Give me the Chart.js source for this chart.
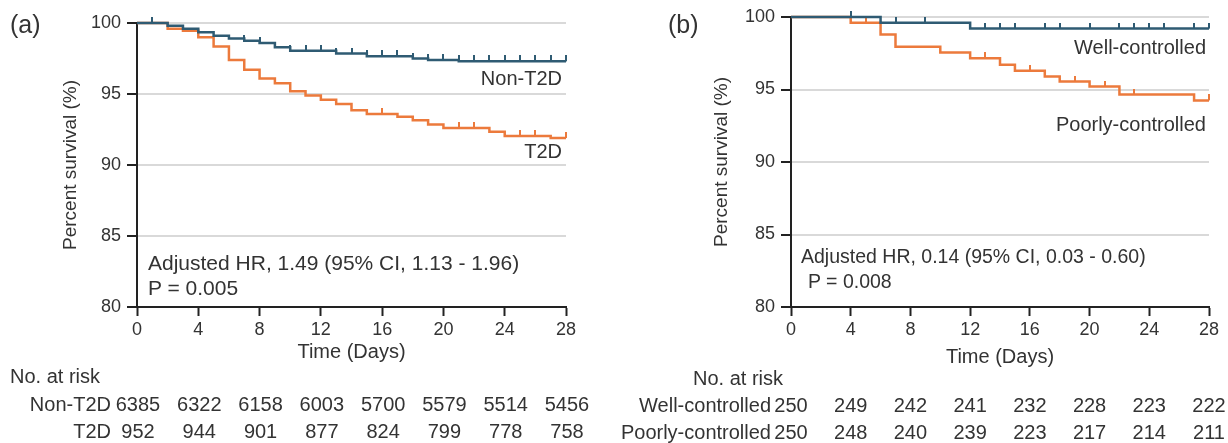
<!DOCTYPE html>
<html lang="en">
<head>
  <meta charset="UTF-8" />
  <title>Survival by diabetes status</title>
  <script src="https://cdn.jsdelivr.net/npm/chart.js"></script>
  <style>
    body { margin:0; background:#fff; font-family: Arial, "Liberation Sans", sans-serif; color:#333; }
    #wrap { position:relative; width:1228px; height:443px; overflow:hidden; }
    canvas { position:absolute; top:0; }
    .t { position:absolute; white-space:nowrap; font-size:20px; line-height:24px; }
    .lbl { font-size:25px; line-height:28px; }
    .annA { font-size:21px; }
    .annB { font-size:19.5px; }
    .num { width:70px; text-align:center; }
  </style>
</head>
<body>
<div id="wrap">
  <canvas id="chartA" width="600" height="370" style="left:0"></canvas>
  <canvas id="chartB" width="614" height="370" style="left:614px"></canvas>

  <div class="t lbl" style="left:10px;top:10px">(a)</div>
  <div class="t" style="right:666px;top:66px">Non-T2D</div>
  <div class="t" style="right:666px;top:139px">T2D</div>
  <div class="t annA" style="left:148px;top:251px">Adjusted HR, 1.49 (95% CI, 1.13 - 1.96)</div>
  <div class="t annA" style="left:148px;top:276px">P = 0.005</div>

  <div class="t lbl" style="left:668px;top:10px">(b)</div>
  <div class="t" style="right:22px;top:35px">Well-controlled</div>
  <div class="t" style="right:22px;top:112px">Poorly-controlled</div>
  <div class="t annB" style="left:801px;top:244px">Adjusted HR, 0.14 (95% CI, 0.03 - 0.60)</div>
  <div class="t annB" style="left:808px;top:269px">P = 0.008</div>

  <div class="t" style="left:10px;top:364px">No. at risk</div>
  <div class="t" style="left:693px;top:366px">No. at risk</div>
  <div id="riskRows"></div>
</div>

<script>
// panel (a) -------------------------------------------------
const nonT2dDays = [0, 2, 3, 4, 5, 6, 7, 8, 9, 10, 13, 15, 18, 19, 21, 28];
const nonT2dSurv = [100, 99.8, 99.6, 99.35, 99.1, 98.9, 98.75, 98.6, 98.3, 98.05, 97.85, 97.65, 97.5, 97.4, 97.3, 97.3];
const nonT2dCensor = [1, 7, 8, 10, 11, 12, 13, 14, 15, 16, 17, 18, 19, 20, 21, 22, 23, 24, 25, 26, 27, 28];

const t2dDays = [0, 2, 3, 4, 5, 6, 7, 8, 9, 10, 11, 12, 13, 14, 15, 17, 18, 19, 20, 23, 24, 27, 28];
const t2dSurv = [100, 99.6, 99.45, 99.0, 98.35, 97.4, 96.7, 96.1, 95.75, 95.2, 94.9, 94.6, 94.3, 93.85, 93.6, 93.4, 93.15, 92.85, 92.6, 92.35, 92.05, 91.9, 91.9];
const t2dCensor = [16, 21, 22, 25, 26, 28];

// panel (b) -------------------------------------------------
const wellDays = [0, 6, 12, 28];
const wellSurv = [100, 99.6, 99.2, 99.2];
const wellCensor = [4, 7, 9, 13, 14, 15, 17, 18, 20, 22, 23, 24, 25, 27, 28];

const poorDays = [0, 4, 6, 7, 10, 12, 14, 15, 17, 18, 20, 22, 27, 28];
const poorSurv = [100, 99.6, 98.8, 97.95, 97.55, 97.15, 96.7, 96.3, 95.9, 95.55, 95.2, 94.65, 94.25, 94.25];
const poorCensor = [5, 13, 16, 19, 21, 23, 28];

// numbers at risk -------------------------------------------
const riskDays   = [0, 4, 8, 12, 16, 20, 24, 28];
const riskNonT2D = [6385, 6322, 6158, 6003, 5700, 5579, 5514, 5456];
const riskT2D    = [952, 944, 901, 877, 824, 799, 778, 758];
const riskWell   = [250, 249, 242, 241, 232, 228, 223, 222];
const riskPoor   = [250, 248, 240, 239, 223, 217, 214, 211];

const BLUE = '#2f5b73';
const ORANGE = '#ec7a3c';
const INK = '#333';

// helpers ---------------------------------------------------
function kmPoints(days, surv) { return days.map((d, i) => ({x: d, y: surv[i]})); }

function survAt(days, surv, t) {
  let v = surv[0];
  days.forEach((d, i) => { if (d <= t) v = surv[i]; });
  return v;
}

// small upward censor mark, used as the point image
function censorMark(color) {
  const c = document.createElement('canvas');
  c.width = 2; c.height = 12;
  const g = c.getContext('2d');
  g.fillStyle = color;
  g.fillRect(0, 0, 2, 6);
  return c;
}

function curve(days, surv, color) {
  return {data: kmPoints(days, surv), borderColor: color, borderWidth: 2.5,
          stepped: 'before', pointRadius: 0, fill: false, clip: false};
}

function censors(days, surv, marks, color) {
  return {data: marks.map(t => ({x: t, y: survAt(days, surv, t)})), showLine: false,
          pointStyle: censorMark(color), pointRadius: 3, clip: false};
}

function makeChart(id, datasets, pad, yWidth, yTitlePad, xTitlePad) {
  return new Chart(document.getElementById(id), {
    type: 'line',
    data: {datasets},
    options: {
      responsive: false, animation: false,
      layout: {padding: pad},
      plugins: {legend: {display: false}, tooltip: {enabled: false}},
      scales: {
        x: {type: 'linear', min: 0, max: 28,
            ticks: {stepSize: 4, color: INK, font: {size: 18}, padding: 3},
            grid: {drawOnChartArea: false, tickLength: 9, tickColor: '#222', tickWidth: 2},
            border: {color: '#222', width: 2},
            title: {display: true, text: 'Time (Days)', color: INK, font: {size: 20}, padding: {top: 0, bottom: xTitlePad}},
            afterFit: s => { s.height = 63; }},
        y: {min: 80, max: 100,
            ticks: {stepSize: 5, color: INK, font: {size: 18}, padding: 6},
            grid: {color: c => c.tick && c.tick.value === 80 ? 'rgba(0,0,0,0)' : '#d9d9d9',
                   lineWidth: 2, tickLength: 10, tickColor: '#222', tickWidth: 2},
            border: {color: '#222', width: 2},
            title: {display: true, text: 'Percent survival (%)', color: INK, font: {size: 19}, padding: {top: yTitlePad, bottom: 0}},
            afterFit: s => { s.width = yWidth; }}
      }
    }
  });
}

const chartA = makeChart('chartA', [
  curve(nonT2dDays, nonT2dSurv, BLUE),
  censors(nonT2dDays, nonT2dSurv, nonT2dCensor, BLUE),
  curve(t2dDays, t2dSurv, ORANGE),
  censors(t2dDays, t2dSurv, t2dCensor, ORANGE)
], {top: 23, right: 34, left: 0, bottom: 0}, 137, 59, 6);

const chartB = makeChart('chartB', [
  curve(wellDays, wellSurv, BLUE),
  censors(wellDays, wellSurv, wellCensor, BLUE),
  curve(poorDays, poorSurv, ORANGE),
  censors(poorDays, poorSurv, poorCensor, ORANGE)
], {top: 17, right: 19, left: 0, bottom: 0}, 177, 96, 1);

// risk table rows, numbers placed under the x ticks ----------
const rows = document.getElementById('riskRows');
function riskRow(chart, offsetX, name, nameRight, values, top) {
  let html = `<div class="t" style="right:${1228 - nameRight}px;top:${top}px">${name}</div>`;
  values.forEach((v, i) => {
    const cx = offsetX + chart.scales.x.getPixelForValue(riskDays[i]);
    html += `<div class="t num" style="left:${cx - 35}px;top:${top}px">${v}</div>`;
  });
  rows.insertAdjacentHTML('beforeend', html);
}
riskRow(chartA, 1, 'Non-T2D', 111, riskNonT2D, 392);
riskRow(chartA, 1, 'T2D', 111, riskT2D, 419);
riskRow(chartB, 614, 'Well-controlled', 771, riskWell, 393);
riskRow(chartB, 614, 'Poorly-controlled', 771, riskPoor, 420);
</script>
</body>
</html>
